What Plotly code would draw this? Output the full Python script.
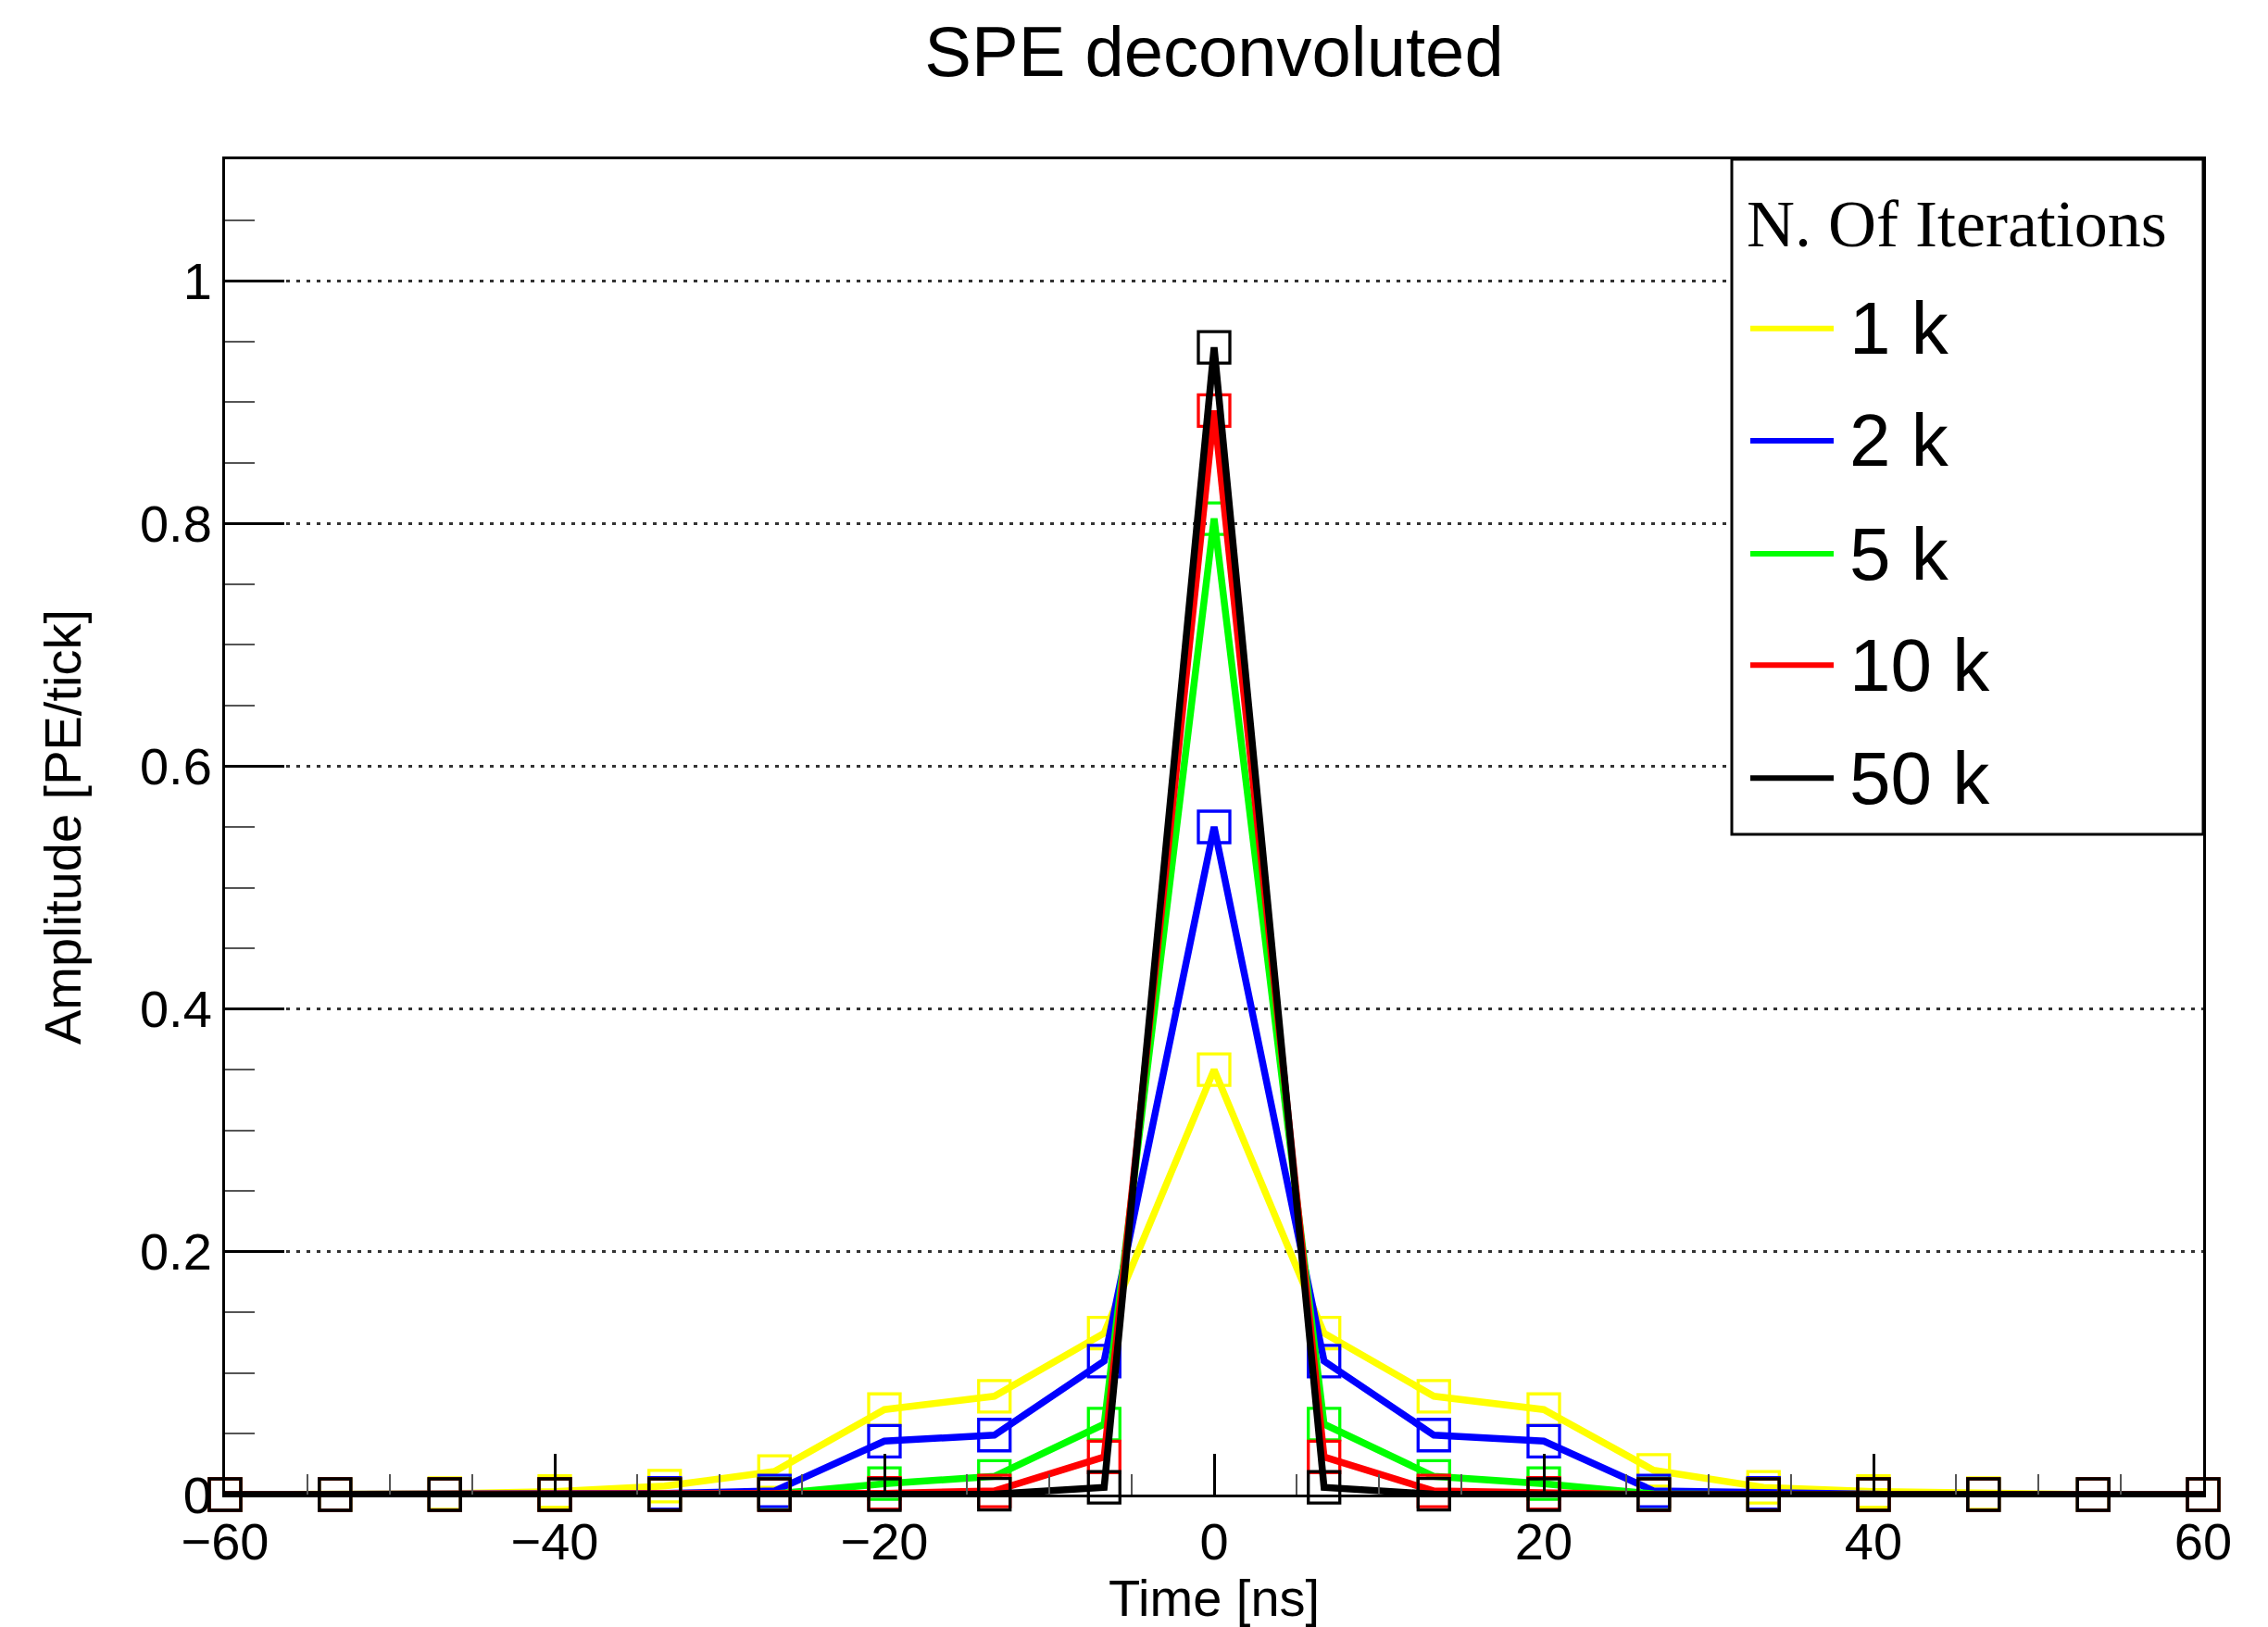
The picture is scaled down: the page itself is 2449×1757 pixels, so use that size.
import plotly.graph_objects as go

# ---- data ----
time_ns = [-60, -53.33, -46.67, -40, -33.33, -26.67, -20, -13.33, -6.67, 0,
           6.67, 13.33, 20, 26.67, 33.33, 40, 46.67, 53.33, 60]

amp_1k = [0, 0, 0.0008, 0.0025, 0.007, 0.019, 0.070, 0.081, 0.133, 0.350,
          0.133, 0.081, 0.070, 0.020, 0.006, 0.0025, 0.0008, 0, 0]
amp_2k = [0, 0, 0, 0.0003, 0.001, 0.003, 0.044, 0.049, 0.110, 0.550,
          0.110, 0.049, 0.044, 0.003, 0.001, 0.0003, 0, 0, 0]
amp_5k = [0, 0, 0, 0, 0, 0.0005, 0.009, 0.015, 0.058, 0.804,
          0.058, 0.015, 0.009, 0.0005, 0, 0, 0, 0, 0]
amp_10k = [0, 0, 0, 0, 0, 0, 0.001, 0.003, 0.031, 0.893,
           0.031, 0.003, 0.001, 0, 0, 0, 0, 0, 0]
amp_50k = [0, 0, 0, 0, 0, 0, 0, 0.0003, 0.006, 0.945,
           0.006, 0.0003, 0, 0, 0, 0, 0, 0, 0]

series_names = ["1 k", "2 k", "5 k", "10 k", "50 k"]
series_values = [amp_1k, amp_2k, amp_5k, amp_10k, amp_50k]
series_colors = ["#FFFF00", "#0000FF", "#00FF00", "#FF0000", "#000000"]

title_text = "SPE deconvoluted"
x_title = "Time [ns]"
y_title = "Amplitude [PE/tick]"
legend_title = "N. Of Iterations"

# ---- layout geometry (pixels) ----
W, H = 2449, 1757
ML, MR, MT, MB = 243, 70, 172, 133
PW, PH = W - ML - MR, H - MT - MB


def px_x(px):
    return (px - ML) / PW


def px_y(py):
    return (H - MB - py) / PH


SANS = "Liberation Sans, Arial, Helvetica, sans-serif"
SERIF = "Liberation Serif, Times New Roman, serif"

fig = go.Figure()
for name, vals, col in zip(series_names, series_values, series_colors):
    fig.add_trace(go.Scatter(
        x=time_ns, y=vals, mode="lines", name=name,
        line=dict(color=col, width=7.5), cliponaxis=False, showlegend=False))
    fig.add_trace(go.Scatter(
        x=time_ns, y=vals, mode="markers", name=name,
        marker=dict(symbol="square-open", size=34, color=col,
                    line=dict(width=3.3, color=col)),
        cliponaxis=False, showlegend=False))

# ---- legend box (drawn as a ROOT-style TLegend) ----
shapes = [dict(type="rect", xref="paper", yref="paper",
               x0=px_x(1870), x1=px_x(2379), y0=px_y(906), y1=px_y(172),
               line=dict(color="black", width=3), fillcolor="white", layer="above")]
annotations = [dict(text=legend_title, xref="paper", yref="paper",
                    x=px_x(1884), y=px_y(242), xanchor="left", yanchor="middle",
                    showarrow=False,
                    font=dict(family=SERIF, size=72, color="black"))]
entry_y = [356, 478, 601, 722, 845]
for name, col, ey in zip(series_names, series_colors, entry_y):
    shapes.append(dict(type="line", xref="paper", yref="paper",
                       x0=px_x(1890), x1=px_x(1980), y0=px_y(ey), y1=px_y(ey),
                       line=dict(color=col, width=6), layer="above"))
    annotations.append(dict(text=name, xref="paper", yref="paper",
                            x=px_x(1995), y=px_y(ey), xanchor="left", yanchor="middle",
                            showarrow=False,
                            font=dict(family=SANS, size=80, color="black")))

fig.update_layout(
    width=W, height=H,
    margin=dict(l=ML, r=MR, t=MT, b=MB),
    plot_bgcolor="white", paper_bgcolor="white",
    font=dict(family=SANS, size=56, color="black"),
    title=dict(text=title_text, x=0.5, xref="paper", xanchor="center",
               y=1 - 55 / H, yref="container", yanchor="middle",
               font=dict(family=SANS, size=76, color="black")),
    showlegend=False,
    shapes=shapes,
    annotations=annotations,
)

fig.update_xaxes(
    range=[-60, 60], tick0=-60, dtick=20,
    ticks="inside", ticklen=44, tickwidth=3, tickcolor="black",
    minor=dict(dtick=5, ticks="inside", ticklen=22, tickwidth=2, tickcolor="#555"),
    showline=True, linewidth=3, linecolor="black", mirror=True,
    showgrid=False, zeroline=False,
    tickfont=dict(family=SANS, size=56, color="black"),
    title=dict(text=x_title, font=dict(family=SANS, size=56, color="black"), standoff=10),
)
fig.update_yaxes(
    range=[0, 1.1], tick0=0, dtick=0.2,
    ticks="inside", ticklen=64, tickwidth=3, tickcolor="black",
    minor=dict(dtick=0.05, ticks="inside", ticklen=32, tickwidth=2, tickcolor="#555",
               showgrid=False),
    showline=True, linewidth=3, linecolor="black", mirror=True,
    showgrid=True, gridcolor="#333", gridwidth=3, griddash="4px,7px",
    zeroline=False,
    tickfont=dict(family=SANS, size=56, color="black"),
    title=dict(text=y_title, font=dict(family=SANS, size=56, color="black"), standoff=46),
)

fig.write_html("out.html")
